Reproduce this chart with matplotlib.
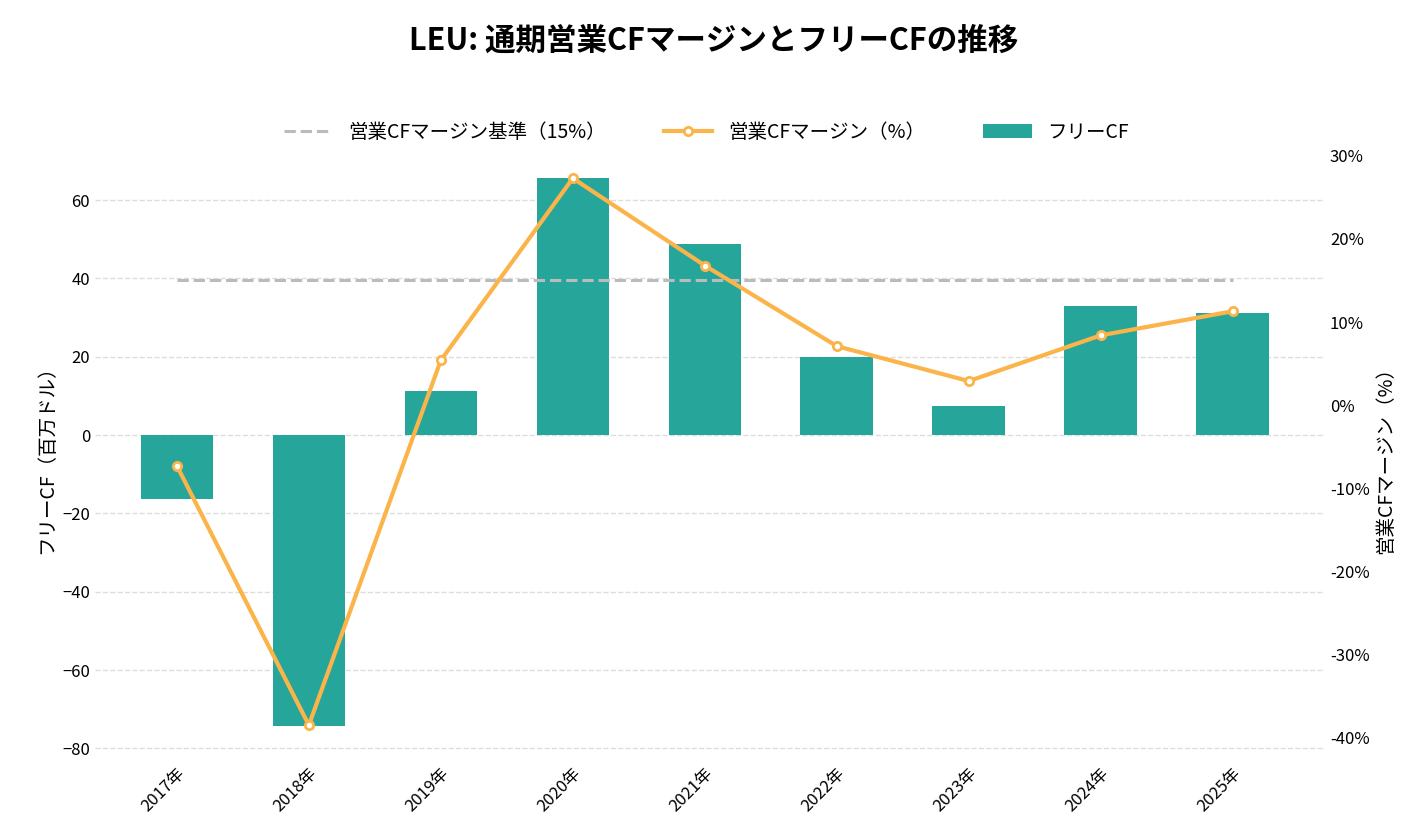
import matplotlib
matplotlib.use("Agg")
import matplotlib.pyplot as plt

plt.rcParams["font.family"] = ["Noto Sans CJK JP", "DejaVu Sans"]

years = ["2017年", "2018年", "2019年", "2020年", "2021年", "2022年", "2023年", "2024年", "2025年"]
free_cf = [-16.4, -74.4, 11.2, 65.7, 48.8, 19.9, 7.4, 33.0, 31.1]
cf_margin = [-7.3, -38.5, 5.4, 27.3, 16.8, 7.1, 2.9, 8.4, 11.3]
margin_base = 15

BAR = "#26a69a"
LINE = "#fbb44a"

fig = plt.figure(figsize=(14.27, 8.38), dpi=100)
ax = fig.add_axes([0.0666, 0.093, 0.862, 0.728])
ax2 = ax.twinx()

x = list(range(len(years)))
bars = ax.bar(x, free_cf, width=0.55, color=BAR, label="フリーCF", zorder=2)
ax.set_ylim(-83.0, 72.8)
ax.set_xlim(-0.62, 8.7)
ax.set_yticks([-80, -60, -40, -20, 0, 20, 40, 60])
ax.grid(axis="y", linestyle="--", color="#dddddd", linewidth=1, zorder=0)
ax.set_axisbelow(True)
ax.set_xticks(x)
ax.set_xticklabels(years, rotation=45, ha="right", rotation_mode="anchor", fontsize=12)
ax.set_ylabel("フリーCF（百万ドル）", fontsize=14)
ax.tick_params(axis="y", labelsize=12, length=0)
ax.tick_params(axis="x", length=0)

base, = ax2.plot([x[0], x[-1]], [margin_base] * 2, "--", color="#bbbbbb", linewidth=2.2,
                 label="営業CFマージン基準（15%）")
line, = ax2.plot(x, cf_margin, "-o", color=LINE, linewidth=3, markersize=6,
                 markerfacecolor="white", markeredgecolor=LINE, markeredgewidth=2,
                 label="営業CFマージン（%）")
ax2.set_ylim(-42.7, 30.7)
ax2.set_yticks([-40, -30, -20, -10, 0, 10, 20, 30])
ax2.set_yticklabels([f"{v}%" for v in [-40, -30, -20, -10, 0, 10, 20, 30]])
ax2.set_ylabel("営業CFマージン（%）", fontsize=14)
ax2.tick_params(axis="y", labelsize=12, length=0)

for a in (ax, ax2):
    for s in a.spines.values():
        s.set_visible(False)

fig.legend([base, line, bars], [base.get_label(), line.get_label(), "フリーCF"],
           loc="center", bbox_to_anchor=(0.495, 0.842), ncol=3, frameon=False,
           fontsize=14, columnspacing=3, handlelength=2.5)
fig.suptitle("LEU: 通期営業CFマージンとフリーCFの推移", fontsize=22, fontweight="bold", y=0.97)

fig.savefig("out.png", dpi=100)
